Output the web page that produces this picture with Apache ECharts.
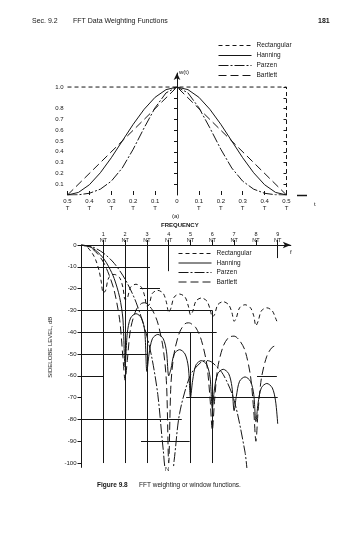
<!DOCTYPE html>
<html>
<head>
<meta charset="utf-8">
<script src="https://cdn.jsdelivr.net/npm/echarts@6/dist/echarts.min.js"></script>
<style>
  html, body { margin: 0; padding: 0; background: #fff; }
  #chart { width: 360px; height: 538px; }
</style>
</head>
<body>
<div id="chart"></div>
<script>
// ---- (a) window shapes in the time domain, t in units of the record length ----
const windowNames = ['Rectangular', 'Hanning', 'Parzen', 'Bartlett'];
const timePoints = [-0.5, -0.45, -0.4, -0.35, -0.3, -0.25, -0.2, -0.15, -0.1, -0.05, 0,
                    0.05, 0.1, 0.15, 0.2, 0.25, 0.3, 0.35, 0.4, 0.45, 0.5];
const hanningShape = [0, 0.024, 0.095, 0.206, 0.345, 0.5, 0.655, 0.794, 0.905, 0.976, 1,
                      0.976, 0.905, 0.794, 0.655, 0.5, 0.345, 0.206, 0.095, 0.024, 0];
const parzenShape = [0, 0.002, 0.016, 0.054, 0.128, 0.25, 0.424, 0.622, 0.808, 0.946, 1,
                     0.946, 0.808, 0.622, 0.424, 0.25, 0.128, 0.054, 0.016, 0.002, 0];
const bartlettShape = [[-0.5, 0], [0, 1], [0.5, 0]];
const rectangularShape = [[-0.5, 1], [0.5, 1], [0.5, 0]];
const timeTicks = [-0.5, -0.4, -0.3, -0.2, -0.1, 0, 0.1, 0.2, 0.3, 0.4, 0.5];
const weightTicks = [0.1, 0.2, 0.3, 0.4, 0.5, 0.6, 0.7, 0.8, 0.9, 1.0];
const weightLabels = [0.1, 0.2, 0.3, 0.4, 0.5, 0.6, 0.7, 0.8, 1.0];

// ---- (b) spectral windows: frequency in multiples of 1/NT, level in dB ----
const freqTicks = [1, 2, 3, 4, 5, 6, 7, 8, 9];
const levelTicks = [0, -10, -20, -30, -40, -50, -60, -70, -80, -90, -100];
const rectangularSpectrum = [
  [0, 0], [0.25, -0.9], [0.5, -3.9], [0.65, -6.8], [0.8, -11.5], [0.9, -16.5], [1.0, -22],
  [1.1, -21], [1.25, -15], [1.5, -13.5], [1.75, -15], [1.9, -19.5], [2.0, -25],
  [2.1, -24.5], [2.25, -19.4], [2.5, -18], [2.75, -19.4], [2.9, -23.5], [3.0, -28],
  [3.1, -27.5], [3.25, -22.2], [3.5, -20.8], [3.75, -22.2], [3.9, -26.5], [4.0, -31],
  [4.1, -29], [4.25, -23.9], [4.5, -22.5], [4.75, -23.9], [4.9, -28], [5.0, -32],
  [5.1, -30.5], [5.25, -25.7], [5.5, -24.3], [5.75, -25.7], [5.9, -29.5], [6.0, -33],
  [6.1, -32], [6.25, -27.4], [6.5, -26], [6.75, -27.4], [6.9, -31], [7.0, -35],
  [7.1, -33.5], [7.25, -28.8], [7.5, -27.4], [7.75, -28.8], [7.9, -32.5], [8.0, -37],
  [8.1, -35], [8.25, -30.2], [8.5, -28.8], [8.75, -30.2], [8.9, -33.5], [9.0, -36]
];
const hanningSpectrum = [
  [0, 0], [0.25, -0.4], [0.5, -1.4], [0.75, -3.3], [1.0, -6], [1.25, -10], [1.5, -15.4],
  [1.75, -24], [1.9, -34], [2.0, -56],
  [2.1, -40.5], [2.25, -33.5], [2.5, -31.5], [2.75, -33.5], [2.9, -39.5], [3.0, -58],
  [3.1, -50], [3.25, -43], [3.5, -41], [3.75, -43], [3.9, -49], [4.0, -60],
  [4.1, -57], [4.25, -50], [4.5, -48], [4.75, -50], [4.9, -56], [5.0, -70],
  [5.1, -62], [5.25, -55], [5.5, -53], [5.75, -55], [5.9, -61], [6.0, -75],
  [6.1, -66], [6.25, -59], [6.5, -57], [6.75, -59], [6.9, -65], [7.0, -76],
  [7.1, -69.5], [7.25, -62.5], [7.5, -60.5], [7.75, -62.5], [7.9, -68.5], [8.0, -81],
  [8.1, -72.5], [8.25, -65.5], [8.5, -63.5], [8.75, -65.5], [8.9, -71.5], [9.0, -82]
];
const parzenSpectrum = [
  [0, 0], [0.5, -0.9], [1.0, -3.65], [1.5, -8.4], [2.0, -15.7], [2.5, -26.2], [3.0, -41.8],
  [3.25, -52.9], [3.5, -68.6], [3.75, -94], [3.9, -104],
  [4.15, -104], [4.25, -98.7], [4.5, -77.2], [5.0, -59.6], [5.5, -53.6], [5.75, -53.0],
  [6.0, -53.9], [6.5, -59.4], [7.0, -71.2], [7.5, -95], [7.6, -104]
];
const bartlettSpectrum = [
  [0, 0], [0.25, -0.45], [0.5, -1.8], [0.75, -4.2], [1.0, -7.8], [1.25, -13.3], [1.5, -20.9],
  [1.75, -34.3], [1.9, -51.6], [2.0, -62],
  [2.1, -53], [2.25, -38.6], [2.5, -29.9], [2.75, -26.8], [2.9, -26.5], [3.0, -26.9],
  [3.25, -29.8], [3.5, -35.8], [3.75, -47.7], [3.9, -63.7], [4.0, -100],
  [4.1, -64.3], [4.25, -49.6], [4.5, -40], [4.75, -36.1], [4.9, -35.7], [5.0, -35.9],
  [5.25, -38], [5.5, -43.7], [5.75, -54.9], [5.9, -71], [6.0, -85],
  [6.1, -71.7], [6.25, -56.2], [6.5, -46.4], [6.75, -42.4], [7.0, -41.8], [7.25, -43.8],
  [7.5, -48.4], [7.75, -60], [7.9, -76], [8.0, -90],
  [8.1, -76.2], [8.25, -61.2], [8.5, -51], [8.75, -46.9], [9.0, -46]
];
// guide rules: horizontal [level, fromFreq, toFreq], vertical [freq, fromLevel, toLevel]
const levelRules = [
  [-10, 0, 3.14], [-20, 2.68, 3.6], [-30, 0, 6.0], [-40, 0, 6.2], [-50, 0, 3.0],
  [-60, 0, 1.0], [-60, 8.05, 8.96], [-70, 4.8, 9.0], [-80, 0, 4.6], [-90, 2.73, 4.96]
];
const freqRules = [
  [1, 0, -100], [2, 0, -100], [3, 0, -100], [4, 0, -12], [5, -40, -100], [6, -30, -100], [9, 0, -6]
];

const ink = '#161616';
const font = 'Liberation Sans, Arial, sans-serif';
const dashStyle = {
  Rectangular: [4, 3],
  Hanning: 'solid',
  Parzen: [10, 2, 2, 2],
  Bartlett: [8, 4]
};
function lineSeries(name, data, xi, yi) {
  return {
    type: 'line', name: name, data: data, xAxisIndex: xi, yAxisIndex: yi,
    symbol: 'none', smooth: xi === 1 ? 0.3 : false, animation: false,
    lineStyle: { color: ink, width: 1, type: dashStyle[name] },
    itemStyle: { color: ink }, z: 3
  };
}
const pair = (xs, ys) => xs.map((x, i) => [x, ys[i]]);

const guideLines = levelRules.map(r => ({ coords: [[r[1], r[0]], [r[2], r[0]]] }))
  .concat(freqRules.map(r => ({ coords: [[r[0], r[1]], [r[0], r[2]]] })));

const chart = echarts.init(document.getElementById('chart'), null, { renderer: 'canvas' });
const legendCommon = {
  orient: 'vertical', data: windowNames, itemWidth: 33, itemHeight: 8, itemGap: 3,
  padding: 0, selectedMode: false,
  itemStyle: { opacity: 0 },
  lineStyle: { width: 1 },
  textStyle: { fontSize: 6.5, color: ink, fontFamily: font }
};

chart.setOption({
  backgroundColor: '#fff',
  animation: false,
  textStyle: { fontFamily: font },
  legend: [
    Object.assign({ left: 218, top: 42 }, legendCommon),
    Object.assign({}, legendCommon, { left: 178, top: 250, itemGap: 2.5 })
  ],
  grid: [
    { left: 67.5, top: 73, width: 219, height: 122, containLabel: false, outerBoundsMode: 'none' },
    { left: 81.5, top: 245, width: 209.3, height: 222.4, containLabel: false, outerBoundsMode: 'none' }
  ],
  xAxis: [
    {
      gridIndex: 0, type: 'value', min: -0.5, max: 0.5,
      axisLine: { show: false }, splitLine: { show: false },
      axisTick: { show: true, length: 4, inside: true, customValues: timeTicks, lineStyle: { color: ink } },
      axisLabel: {
        customValues: timeTicks, margin: 3, color: ink, fontSize: 6, lineHeight: 7,
        formatter: v => Math.abs(v) < 1e-9 ? '0' : Math.abs(v).toFixed(1) + '\nT'
      }
    },
    {
      gridIndex: 1, type: 'value', position: 'top', min: 0, max: 9.6,
      axisLine: { show: true, symbol: ['none', 'arrow'], symbolSize: [5, 8], lineStyle: { color: ink, width: 1 } },
      splitLine: { show: false },
      axisTick: { show: true, length: 5, customValues: freqTicks, lineStyle: { color: ink } },
      axisLabel: {
        customValues: freqTicks, margin: 2, color: ink, fontSize: 5.5, lineHeight: 5.5,
        formatter: v => v + '\nNT'
      }
    }
  ],
  yAxis: [
    {
      gridIndex: 0, type: 'value', min: 0, max: 1.13,
      axisLine: { show: true, onZero: true, symbol: ['none', 'arrow'], symbolSize: [5, 7], lineStyle: { color: ink, width: 1 } },
      splitLine: { show: false },
      axisTick: { show: true, length: 3, customValues: weightTicks, lineStyle: { color: ink } },
      axisLabel: {
        customValues: weightLabels, margin: 4, color: ink, fontSize: 6,
        formatter: v => v.toFixed(1)
      }
    },
    {
      gridIndex: 0, type: 'value', min: 0, max: 1.13,
      axisLine: { show: false, onZero: true }, splitLine: { show: false },
      axisTick: { show: true, inside: true, length: 3, customValues: weightTicks, lineStyle: { color: ink } },
      axisLabel: { show: false }
    },
    {
      gridIndex: 1, type: 'value', min: -102, max: 0,
      name: 'SIDELOBE LEVEL, dB', nameLocation: 'middle', nameGap: 24,
      nameTextStyle: { fontSize: 6, color: ink, padding: [0, 0, 0, 18] },
      axisLine: { show: true, lineStyle: { color: ink, width: 1 } },
      splitLine: { show: false },
      axisTick: { show: true, length: 4, customValues: levelTicks, lineStyle: { color: ink } },
      axisLabel: { customValues: levelTicks, margin: 5, color: ink, fontSize: 6 }
    }
  ],
  series: [
    lineSeries('Rectangular', rectangularShape, 0, 0),
    lineSeries('Hanning', pair(timePoints, hanningShape), 0, 0),
    lineSeries('Parzen', pair(timePoints, parzenShape), 0, 0),
    lineSeries('Bartlett', bartlettShape, 0, 0),
    lineSeries('Rectangular', rectangularSpectrum, 1, 2),
    lineSeries('Hanning', hanningSpectrum, 1, 2),
    lineSeries('Parzen', parzenSpectrum, 1, 2),
    lineSeries('Bartlett', bartlettSpectrum, 1, 2),
    {
      type: 'lines', coordinateSystem: 'cartesian2d', xAxisIndex: 1, yAxisIndex: 2,
      polyline: false, silent: true, animation: false, z: 2,
      lineStyle: { color: ink, width: 1, opacity: 1 },
      data: guideLines
    }
  ],
  graphic: [
    { type: 'text', left: 32, top: 18, style: { text: 'Sec. 9.2', fill: ink, font: '7px ' + font } },
    { type: 'text', left: 73, top: 18, style: { text: 'FFT Data Weighting Functions', fill: ink, font: '7px ' + font } },
    { type: 'text', left: 318, top: 18, style: { text: '181', fill: ink, font: 'bold 7px ' + font } },
    { type: 'text', left: 179, top: 69, style: { text: 'w(t)', fill: ink, font: '6px ' + font } },
    { type: 'line', shape: { x1: 297, y1: 195.5, x2: 307, y2: 195.5 }, style: { stroke: ink, lineWidth: 1.5 } },
    { type: 'text', left: 314, top: 201, style: { text: 't', fill: ink, font: '6px ' + font } },
    { type: 'text', left: 172, top: 213, style: { text: '(a)', fill: ink, font: '6px ' + font } },
    { type: 'text', left: 161, top: 222.5, style: { text: 'FREQUENCY', fill: ink, font: 'bold 6px ' + font } },
    { type: 'text', left: 290, top: 249, style: { text: 'f', fill: ink, font: '6px ' + font } },
    { type: 'text', left: 165, top: 466, style: { text: 'N', fill: ink, font: '6px ' + font } },
    { type: 'text', left: 97, top: 482, style: { text: 'Figure 9.8', fill: ink, font: 'bold 6.5px ' + font } },
    { type: 'text', left: 139, top: 482, style: { text: 'FFT weighting or window functions.', fill: ink, font: '6.5px ' + font } }
  ]
});
</script>
</body>
</html>
